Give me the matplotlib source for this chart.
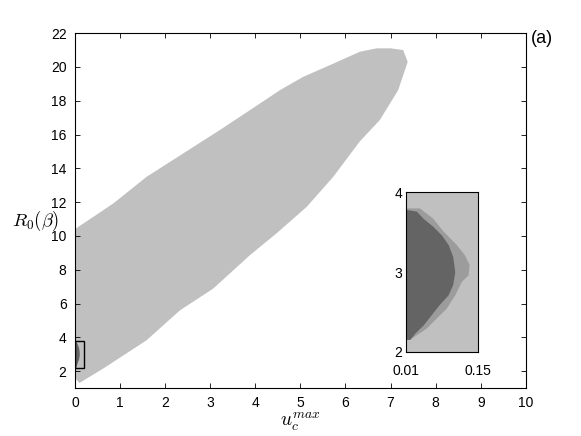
import numpy as np
import matplotlib.pyplot as plt
from matplotlib.patches import Rectangle

plt.rcParams['font.family'] = ['Liberation Sans', 'DejaVu Sans']
plt.rcParams['mathtext.fontset'] = 'cm'

# feasible region in (u_c^max, R0) plane - upper and lower edges
upper_x = [0.0, 0.85, 1.59, 2.4, 3.21, 3.88, 4.55, 5.06, 5.65, 6.32, 6.69, 7.0, 7.28, 7.38]
upper_y = [10.4, 11.92, 13.5, 14.88, 16.26, 17.44, 18.63, 19.41, 20.1, 20.9, 21.1, 21.1, 21.0, 20.3]
lower_x = [0.0, 0.1, 0.63, 1.59, 2.33, 3.07, 3.88, 4.47, 5.14, 5.73, 6.32, 6.76, 7.17, 7.38]
lower_y = [1.6, 1.3, 2.16, 3.83, 5.6, 6.89, 8.86, 10.15, 11.72, 13.5, 15.6, 16.85, 18.63, 20.3]

# zoomed region (inset), dark core and medium fringe
dark_x = [0.01, 0.011, 0.031, 0.044, 0.063, 0.080, 0.093, 0.102, 0.106, 0.102,
          0.093, 0.076, 0.060, 0.044, 0.028, 0.018, 0.01]
dark_y = [3.78, 3.78, 3.76, 3.67, 3.57, 3.46, 3.34, 3.19, 3.0, 2.84,
          2.71, 2.59, 2.46, 2.33, 2.23, 2.15, 2.15]
mid_x = [0.01, 0.037, 0.063, 0.083, 0.109, 0.125, 0.134, 0.132, 0.119, 0.106,
         0.089, 0.070, 0.050, 0.031, 0.018, 0.01]
mid_y = [3.80, 3.80, 3.67, 3.51, 3.34, 3.21, 3.09, 2.96, 2.88, 2.71,
         2.54, 2.42, 2.29, 2.21, 2.15, 2.15]

light = '#c0c0c0'
mid = '#9c9c9c'
dark = '#646464'

fig = plt.figure(figsize=(5.81, 4.36), dpi=100)
ax = fig.add_axes([0.129, 0.110, 0.776, 0.814])

px = np.concatenate([upper_x, lower_x[::-1]])
py = np.concatenate([upper_y, lower_y[::-1]])
ax.fill(px, py, color=light, lw=0)
ax.fill(dark_x, dark_y, color=dark, lw=0)
ax.add_patch(Rectangle((0.01, 2.2), 0.2, 1.6, fill=False, ec='black', lw=1))

ax.set_xlim(0, 10)
ax.set_ylim(1, 22)
ax.set_xticks(np.arange(0, 11, 1))
ax.set_yticks(np.arange(2, 23, 2))
ax.tick_params(direction='in', top=True, right=True, length=3.5, width=0.6,
               labelsize=10, pad=6)
for s in ax.spines.values():
    s.set_linewidth(0.8)
ax.set_xlabel(r'$u_c^{max}$', fontsize=14, labelpad=0)
ax.set_ylabel(r'$R_0(\beta)$', fontsize=13.5, rotation=0, va='center', ha='center')
ax.yaxis.set_label_coords(-0.088, 0.472)

fig.text(0.913, 0.912, '(a)', fontsize=13, ha='left', va='center')

# inset
axi = fig.add_axes([0.699, 0.193, 0.1234, 0.3656])
axi.set_facecolor(light)
axi.fill(mid_x, mid_y, color=mid, lw=0)
axi.fill(dark_x, dark_y, color=dark, lw=0)
axi.set_xlim(0.01, 0.15)
axi.set_ylim(2, 4)
axi.set_xticks([0.01, 0.15])
axi.set_xticklabels(['0.01', '0.15'])
axi.set_yticks([2, 3, 4])
axi.tick_params(length=0, labelsize=10, pad=3)
axi.tick_params(axis='x', pad=9)
for s in axi.spines.values():
    s.set_linewidth(0.8)

fig.savefig('out.png', dpi=100)
